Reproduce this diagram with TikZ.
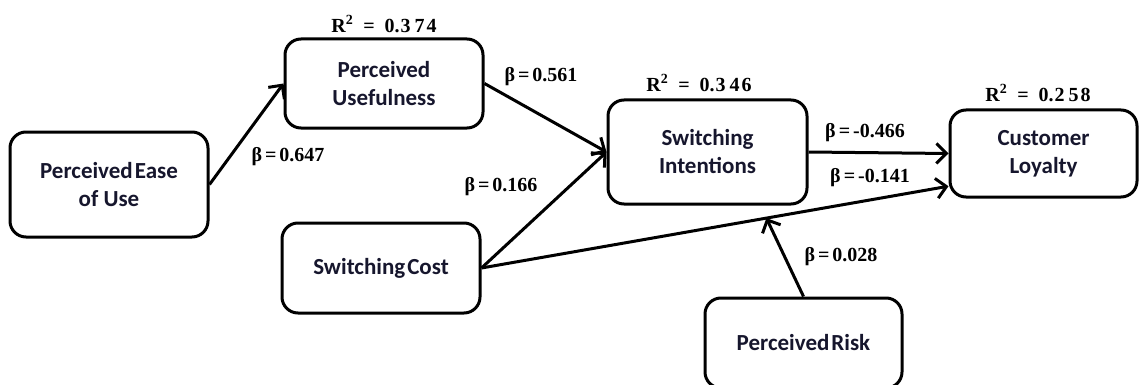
\documentclass[tikz,border=0pt]{standalone}
\usepackage{fontspec}
\setmainfont{Liberation Serif}
\newfontfamily\boxfont{Carlito}
\usetikzlibrary{arrows.meta,calc}
\definecolor{txt}{RGB}{22,22,45}
\begin{document}
\begin{tikzpicture}[x=1pt,y=-1pt,
  box/.style={draw, line width=3pt, rounded corners=16pt, fill=white,
    font=\boxfont\bfseries\fontsize{23}{28}\selectfont, text=txt, align=center, inner sep=0pt},
  lbl/.style={font=\bfseries\fontsize{20}{22}\selectfont, text=black, inner sep=0pt},
  rlbl/.style={font=\bfseries\fontsize{20}{22}\selectfont, text=black, inner sep=0pt},
  arr/.style={line width=3pt, -{Straight Barb[length=10pt,width=20pt,line width=3pt]}}]
\useasboundingbox (0,0) rectangle (1139,385);
\clip (0,0) rectangle (1139,385);
% nodes
\node[box, minimum width=198pt, minimum height=105pt] (peou) at (109,184.5) {Perceived\hspace{2pt}Ease\\of Use};
\node[box, minimum width=198pt, minimum height=89pt] (pu) at (384,83.5) {Perceived\\Usefulness};
\node[box, minimum width=199pt, minimum height=104pt] (si) at (707.5,152) {Switching\\Intentions};
\node[box, minimum width=187pt, minimum height=87pt] (cl) at (1043.5,153.5) {Customer\\Loyalty};
\node[box, minimum width=198pt, minimum height=90pt] (sc) at (381,268) {Switching\hspace{2pt}Cost};
\node[box, minimum width=197pt, minimum height=90pt] (pr) at (803.5,343) {Perceived\hspace{2pt}Risk};
% connector points
\coordinate (clin) at (cl.199);
\coordinate (mid) at ($(sc.east)!0.61!(clin)$);
% connectors
\draw[arr] (peou.east) -- (pu.west);
\draw[arr] (pu.east) -- (si.west);
\draw[arr] (sc.east) -- (si.west);
\draw[arr] (sc.east) -- (clin);
\draw[arr] (si.east) -- (cl.west);
\draw[arr] (pr.north) -- (mid);
% labels
\node[lbl] (b1) at (288,157) {β\hspace{3pt}=\hspace{3pt}0.647};
\node[lbl] (b2) at (541,77) {β\hspace{3pt}=\hspace{3pt}0.561};
\node[lbl] (b3) at (501,187) {β\hspace{3pt}=\hspace{3pt}0.166};
\node[lbl] (b4) at (865,133) {β\hspace{3pt}=\hspace{3pt}-0.466};
\node[lbl] (b5) at (870,178) {β\hspace{3pt}=\hspace{3pt}-0.141};
\node[lbl] (b6) at (841,257) {β\hspace{3pt}=\hspace{3pt}0.028};
\node[rlbl] (r1) at (384,24) {R\textsuperscript{2}\ \ =\ \ 0.\hspace{1pt}3\hspace{4pt}7\hspace{2pt}4};
\node[rlbl] (r2) at (699,83) {R\textsuperscript{2}\ \ =\ \ 0.\hspace{1pt}3\hspace{4pt}4\hspace{2pt}6};
\node[rlbl] (r3) at (1038,93) {R\textsuperscript{2}\ \ =\ \ 0.\hspace{1pt}2\hspace{4pt}5\hspace{2pt}8};
\end{tikzpicture}
\end{document}
